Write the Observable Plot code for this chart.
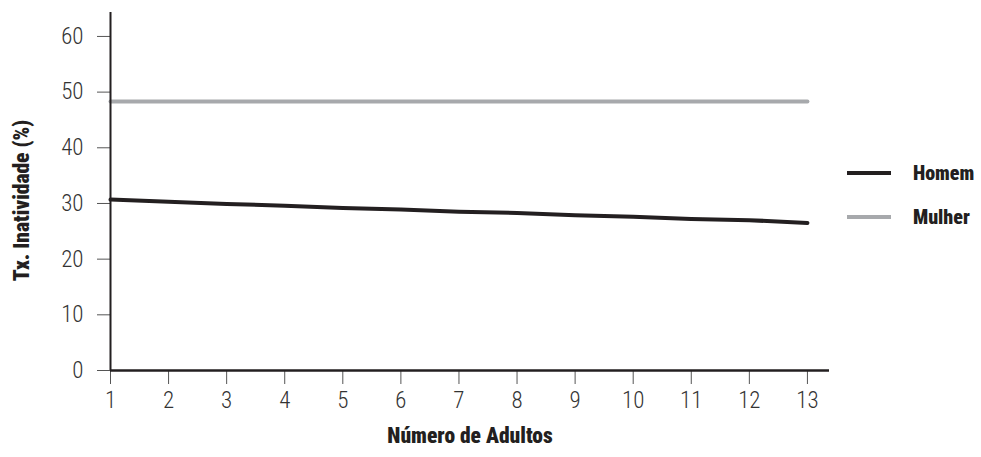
<!DOCTYPE html>
<html>
<head>
<meta charset="utf-8">
<script src="https://cdn.jsdelivr.net/npm/d3@7"></script>
<script src="https://cdn.jsdelivr.net/npm/@observablehq/plot@0.6"></script>
<style>
  body { margin: 0; background: #fff; }
  #wrap { position: relative; width: 981px; height: 457px; }
  .leg { position: absolute; font-family: Roboto, sans-serif; font-stretch: condensed; font-weight: 900; font-size: 20px; color: #231f20; white-space: nowrap; }
  .sw { position: absolute; width: 44px; height: 4px; }
</style>
</head>
<body>
<div id="wrap"></div>
<script>
const adultos = [1,2,3,4,5,6,7,8,9,10,11,12,13];
const homem  = [30.7,30.3,29.9,29.6,29.2,28.9,28.5,28.3,27.9,27.6,27.2,27.0,26.5];
const mulher = [48.3,48.3,48.3,48.3,48.3,48.3,48.3,48.3,48.3,48.3,48.3,48.3,48.3];
const series = ["Homem", "Mulher"];
const colors = ["#231f20", "#a7a9ac"];
const yTicks = [0,10,20,30,40,50,60];
const xTicks = adultos;
const xLabel = "Número de Adultos";
const yLabel = "Tx. Inatividade (%)";

const data = [];
adultos.forEach((a, i) => {
  data.push({adultos: a, valor: homem[i], serie: series[0]});
  data.push({adultos: a, valor: mulher[i], serie: series[1]});
});

const chart = Plot.plot({
  width: 981,
  height: 457,
  marginLeft: 110,
  marginRight: 152,
  marginTop: 12,
  marginBottom: 87,
  style: "font-family: Roboto, sans-serif; font-stretch: condensed; font-weight: 300; color: #231f20; background: #fff;",
  x: {domain: [1, 13.38], label: null},
  y: {domain: [0, 64.3], label: null},
  color: {domain: series, range: colors},
  marks: [
    Plot.axisY({ticks: yTicks, tickSize: 13, tickPadding: 14, fontSize: 23, stroke: "#555", fill: "#333", label: null}),
    Plot.axisX({ticks: xTicks, tickSize: 14, tickPadding: 7, fontSize: 23, stroke: "#555", fill: "#333", label: null, tickFormat: d => d}),
    Plot.line(data, {x: "adultos", y: "valor", z: "serie", stroke: "serie", strokeWidth: 4}),
    Plot.ruleX([adultos[0]], {stroke: "#231f20", strokeWidth: 2}),
    Plot.ruleY([yTicks[0]], {stroke: "#231f20", strokeWidth: 2.5}),
    Plot.text([xLabel], {frameAnchor: "bottom", textAnchor: "middle", dy: 72, fontSize: 21.5, fontWeight: 900, fill: "#231f20"}),
    Plot.text([yLabel], {frameAnchor: "left", textAnchor: "middle", rotate: -90, dx: -88, dy: 9, fontSize: 21.5, fontWeight: 900, fill: "#231f20"})
  ]
});

const wrap = document.getElementById("wrap");
wrap.appendChild(chart);
const legY = [173, 217];
series.forEach((s, i) => {
  const sw = document.createElement("div");
  sw.className = "sw";
  sw.style.left = "847px";
  sw.style.top = (legY[i] - 2) + "px";
  sw.style.background = colors[i];
  wrap.appendChild(sw);
  const t = document.createElement("div");
  t.className = "leg";
  t.style.left = "913px";
  t.style.top = (legY[i] - 12) + "px";
  t.style.lineHeight = "24px";
  t.textContent = s;
  wrap.appendChild(t);
});
</script>
</body>
</html>
